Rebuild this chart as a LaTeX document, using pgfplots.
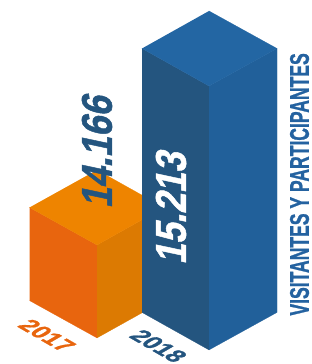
\documentclass[border=0pt]{standalone}
\usepackage{pgfplots}
\pgfplotsset{compat=1.18}
\usepackage{fontspec}
\setmainfont{Liberation Sans}
\newfontfamily\heavyfont[FakeBold=1.2]{Liberation Sans}
\newfontfamily\slantfont[FakeBold=1.2,FakeSlant=0.25]{Liberation Sans}
\definecolor{orL}{HTML}{E8650E}
\definecolor{orR}{HTML}{DC7A02}
\definecolor{orT}{HTML}{EE8400}
\definecolor{blL}{HTML}{24557F}
\definecolor{blR}{HTML}{21609A}
\definecolor{blT}{HTML}{2366A3}
\definecolor{txtB}{HTML}{2462A0}
\begin{document}
\begin{tikzpicture}
\begin{axis}[
  scale only axis, width=312pt, height=364pt,
  xmin=0, xmax=312, ymin=13382.4, ymax=15779.3,
  hide axis, clip=false,
]
\coordinate (sw) at (rel axis cs:0,0);
\coordinate (ne) at (rel axis cs:1,1);
% 2017 : value 14166 (front edge top), depth offset 247
\addplot[fill=orL, draw=orL, line width=0.2pt] coordinates {(29.5,13800) (97,13554) (97,14166) (29.5,14413)};
\addplot[fill=orR, draw=orR, line width=0.2pt] coordinates {(97,13554) (164,13800) (164,14413) (97,14166)};
\addplot[fill=orT, draw=orT, line width=0.2pt] coordinates {(29.5,14413) (97,14166) (164,14413) (97,14660)};
% 2018 : value 15213
\addplot[fill=blL, draw=blL, line width=0.2pt] coordinates {(142,13722) (209,13475) (209,15213) (142,15460)};
\addplot[fill=blR, draw=blR, line width=0.2pt] coordinates {(209,13475) (277,13722) (277,15460) (209,15213)};
\addplot[fill=blT, draw=blT, line width=0.2pt] coordinates {(142,15460) (209,15213) (277,15460) (209,15707)};
% labels
\node[rotate=90, text=blL, font=\fontsize{43}{43}\selectfont\slantfont\bfseries, inner sep=0pt]
  at (axis cs:97,14775) {\scalebox{0.85}[1]{14.166}};
\node[rotate=90, text=white, font=\fontsize{43}{43}\selectfont\slantfont\bfseries, inner sep=0pt]
  at (axis cs:171,14405) {\scalebox{0.85}[1]{15.213}};
\node[rotate=90, text=txtB, font=\fontsize{27}{27}\selectfont\heavyfont\bfseries, inner sep=0pt]
  at (axis cs:299.5,14565) {\scalebox{0.65}[1]{VISITANTES Y PARTICIPANTES}};
\node[rotate=-30, xslant=0.577, yscale=0.866, text=orL, font=\fontsize{24}{24}\selectfont\heavyfont\bfseries, inner sep=0pt]
  at (axis cs:47,13570) {2017};
\node[rotate=-30, xslant=0.577, yscale=0.866, text=blL, font=\fontsize{24}{24}\selectfont\heavyfont\bfseries, inner sep=0pt]
  at (axis cs:158.5,13501) {2018};
\end{axis}
\pgfresetboundingbox
\path (sw) rectangle (ne);
\end{tikzpicture}
\end{document}
